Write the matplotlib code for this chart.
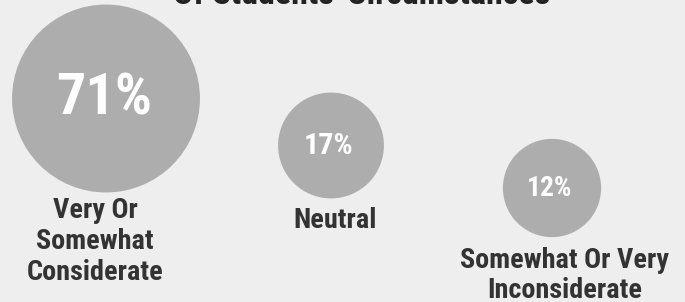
import matplotlib
matplotlib.use("Agg")
import matplotlib.pyplot as plt
from matplotlib.patches import Circle
from matplotlib import font_manager

# ---- data ----
categories = ["Very Or\nSomewhat\nConsiderate", "Neutral", "Somewhat Or Very\nInconsiderate"]
values = [71, 17, 12]
value_labels = ["71%", "17%", "12%"]
title = "Of Students' Circumstances"

# ---- font choice ----
names = {f.name for f in font_manager.fontManager.ttflist}
family = "DejaVu Sans"
for cand in ["Roboto Condensed", "Liberation Sans Narrow", "Roboto"]:
    if cand in names:
        family = cand
        break
plt.rcParams["font.family"] = [family, "DejaVu Sans"]

BG = "#eeeeee"
CIRCLE = "#adadad"
DARK = "#333333"

W, H = 685, 302
fig = plt.figure(figsize=(W / 100, H / 100), dpi=100, facecolor=BG)
ax = fig.add_axes([0, 0, 1, 1])
ax.set_facecolor(BG)
ax.set_xlim(0, W)
ax.set_ylim(H, 0)
ax.axis("off")

# layout (pixel positions)
cx = [106, 331, 552]
cy = [98.5, 145.5, 188]
label_x = [95, 335, 565]
label_baselines = [218, 228, 268]
line_gap = [31, 31, 29.5]


def radius(v):
    return 40.0 + 0.76 * v


def pct_size(v):
    return 15.3 + 0.375 * v


for i, v in enumerate(values):
    r = radius(v)
    ax.add_patch(Circle((cx[i], cy[i]), r, facecolor=CIRCLE, edgecolor="none"))
    ax.text(cx[i] - 2, cy[i] + 0.5, value_labels[i], ha="center", va="center",
            color="white", fontsize=pct_size(v), fontweight="bold")
    for j, line in enumerate(categories[i].split("\n")):
        ax.text(label_x[i], label_baselines[i] + j * line_gap[i], line,
                ha="center", va="baseline", color=DARK,
                fontsize=20.3, fontweight="bold")

ax.text(362, 4.5, title, ha="center", va="baseline", color="#222222",
        fontsize=24.5, fontweight="bold")

fig.savefig("out.png", dpi=100, facecolor=BG)
